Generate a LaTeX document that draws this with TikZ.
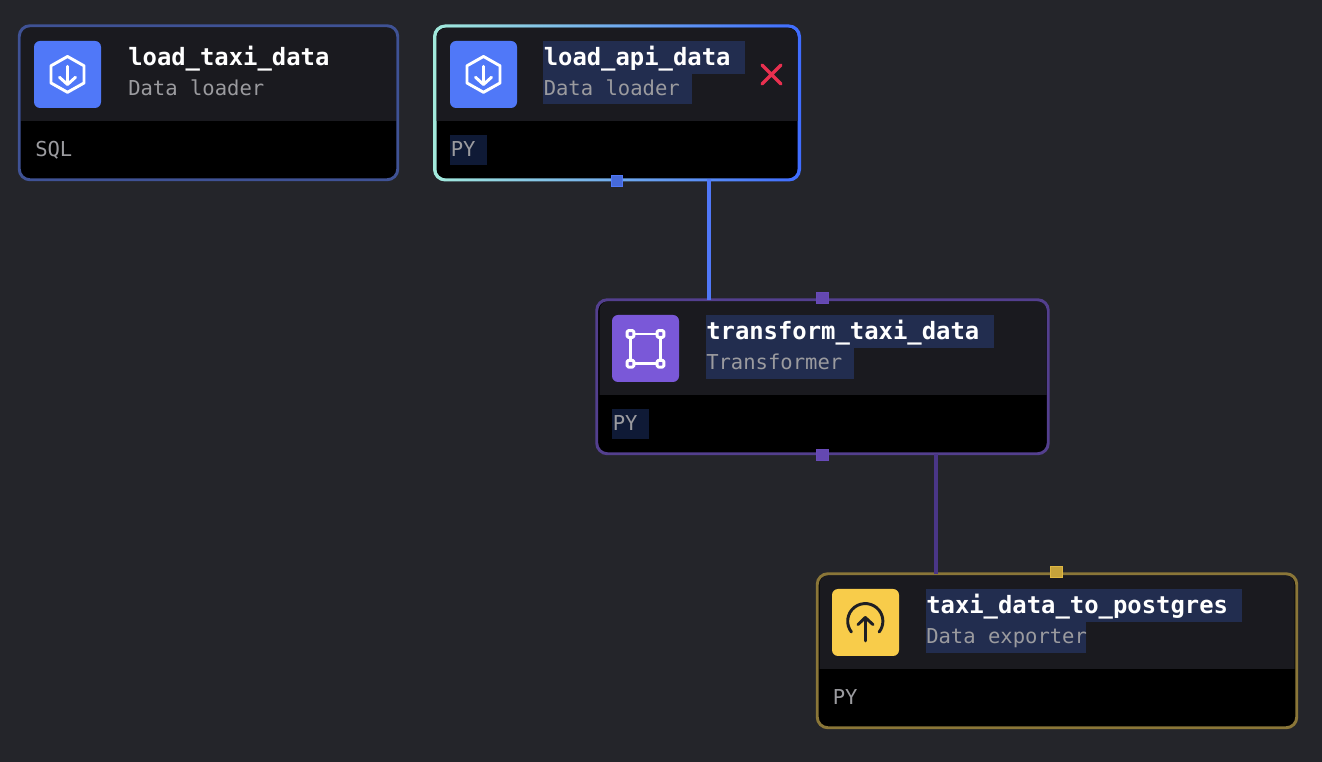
\documentclass[tikz,border=0pt]{standalone}
\usepackage{fontspec}
\setmonofont{DejaVu Sans Mono}
\definecolor{bgc}{HTML}{24252A}
\definecolor{headc}{HTML}{1A1A1F}
\definecolor{selhead}{HTML}{222D4F}
\definecolor{selbody}{HTML}{0F1A36}
\definecolor{subc}{HTML}{9B9B9F}
\definecolor{bluec}{HTML}{5078F8}
\definecolor{purplec}{HTML}{7A58D8}
\definecolor{yellowc}{HTML}{F8CC4A}
\definecolor{darkline}{HTML}{1E1F24}
\definecolor{blueedge}{HTML}{3F5295}
\definecolor{purpleedge}{HTML}{533F8E}
\definecolor{yellowedge}{HTML}{8A7638}
\definecolor{tealc}{HTML}{A2EADC}
\definecolor{vividblue}{HTML}{3F6CFF}
\definecolor{purplewire}{HTML}{4A3687}
\definecolor{crossc}{HTML}{E8304F}
\tikzset{
  cardbox/.style={rectangle,rounded corners=8pt,inner sep=0pt,fill=black},
  cardedge/.style={line width=2.2pt,rounded corners=8pt},
  titletext/.style={anchor=base west,inner sep=0pt,text=white,font=\ttfamily\bfseries\fontsize{17.9}{18}\selectfont},
  subtext/.style={anchor=base west,inner sep=0pt,text=subc,font=\ttfamily\fontsize{15.4}{15.4}\selectfont},
  langtext/.style={anchor=base west,inner sep=0pt,text=subc,font=\ttfamily\fontsize{15.4}{15.4}\selectfont},
  iconbox/.style={rectangle,rounded corners=4.5pt,inner sep=0pt,minimum size=50.25pt},
  whiteicon/.style={draw=white,line width=2.2pt,line join=round,line cap=round},
  darkicon/.style={draw=darkline,line width=2.2pt,line join=round,line cap=round},
  port/.style={rectangle,inner sep=0pt,minimum size=8.4pt,line width=0.75pt},
  wire/.style={line width=2.5pt},
  sel/.style={fill=selhead},
  selb/.style={fill=selbody}
}
\begin{document}
\begin{tikzpicture}[x=0.75pt,y=-0.75pt]
\useasboundingbox[fill=bgc] (0,0) rectangle (1322,762);
\coordinate (wirea) at (709,240);
\coordinate (wireb) at (936,515);
% cards
\node[cardbox,minimum width=283.5pt,minimum height=115.1pt] (taxi) at (208.5,102.75) {};
\fill[headc] (20.5,121) [rounded corners=7pt] -- (20.5,27) -- (396.5,27) [sharp corners] -- (396.5,121) -- cycle;
\draw[cardedge,draw=blueedge] (taxi.north west) rectangle (taxi.south east);
\shade[left color=tealc,right color=vividblue,rounded corners=9pt] (433,24.5) rectangle (801,181.5);
\node[cardbox,rounded corners=7pt,minimum width=270.75pt,minimum height=113pt] (api) at (617,103) {};
\fill[headc] (436.5,121) [rounded corners=7pt] -- (436.5,28) -- (797.5,28) [sharp corners] -- (797.5,121) -- cycle;
\node[cardbox,minimum width=338.25pt,minimum height=115.1pt] (transform) at (822.5,376.75) {};
\fill[headc] (599.5,395) [rounded corners=7pt] -- (599.5,301) -- (1046.5,301) [sharp corners] -- (1046.5,395) -- cycle;
\draw[cardedge,draw=purpleedge] (transform.north west) rectangle (transform.south east);
\node[cardbox,minimum width=359.25pt,minimum height=115.1pt] (exporter) at (1057,650.75) {};
\fill[headc] (819.5,669) [rounded corners=7pt] -- (819.5,575) -- (1294.5,575) [sharp corners] -- (1294.5,669) -- cycle;
\draw[cardedge,draw=yellowedge] (exporter.north west) rectangle (exporter.south east);
% wires
\draw[wire,draw=bluec] (api.south -| wirea) -- (transform.north -| wirea);
\draw[wire,draw=purplewire] (transform.south -| wireb) -- (exporter.north -| wireb);
% ports
\node[port,fill=bluec!88!black,draw=bluec] (p1) at (617,181) {};
\node[port,fill=purplec!82!black,draw=purplec!85!black] (p2) at (822.5,298) {};
\node[port,fill=purplec!82!black,draw=purplec!85!black] (p3) at (822.5,455) {};
\node[port,fill=yellowc!80!black,draw=yellowc!90!black] (p4) at (1056.5,572) {};
% selection highlights
\fill[sel] (543.3,41) rectangle (745,74.3);
\fill[sel] (543.3,74.3) rectangle (691.7,104.3);
\fill[selb] (450,135) rectangle (487,164.7);
\fill[sel] (706,315) rectangle (994,348.3);
\fill[sel] (706,348.3) rectangle (854,378.7);
\fill[selb] (612,409) rectangle (649,438.7);
\fill[sel] (925.7,589) rectangle (1242.3,622.3);
\fill[sel] (925.7,622.3) rectangle (1086,652.7);
% icon boxes
\node[iconbox,fill=bluec] (i1) at (67.5,74.5) {};
\node[iconbox,fill=bluec] (i2) at (483.5,74.5) {};
\node[iconbox,fill=purplec] (i3) at (645.5,348.5) {};
\node[iconbox,fill=yellowc] (i4) at (865.5,622.5) {};
% loader glyphs
\foreach \dx in {0,416}{
  \begin{scope}[xshift=\dx*0.75pt]
  \draw[whiteicon] (67.5,56.5) -- (84,65.8) -- (84,83) -- (67.5,92.3) -- (51,83) -- (51,65.8) -- cycle;
  \draw[whiteicon] (67.5,66.3) -- (67.5,84);
  \draw[whiteicon] (59.5,77.3) -- (67.5,84.5) -- (75.5,77.3);
  \end{scope}
}
% transformer glyph
\draw[whiteicon] (630.5,334) rectangle (660.5,363.7);
\foreach \cx/\cy in {630.5/334,660.5/334,630.5/363.7,660.5/363.7}{
  \draw[whiteicon,fill=purplec,rounded corners=1pt] (\cx-3.4,\cy-3.4) rectangle (\cx+3.4,\cy+3.4);
}
% exporter glyph
\draw[darkicon] (851.4,632) arc[start angle=218,end angle=-38,radius=13.2pt];
\draw[darkicon] (865.3,641) -- (865.3,617.7);
\draw[darkicon] (858,624.6) -- (865.3,617.5) -- (873,624.6);
% texts
\node[titletext] (t1) at (128,66) {load\_taxi\_data};
\node[subtext] (s1) at (128,96) {Data loader};
\node[langtext] (l1) at (35,157) {SQL};
\node[titletext] (t2) at (543.5,66) {load\_api\_data};
\node[subtext] (s2) at (543.5,96) {Data loader};
\node[langtext] (l2) at (450.5,157) {PY};
\node[titletext] (t3) at (706,340) {transform\_taxi\_data};
\node[subtext] (s3) at (706,370) {Transformer};
\node[langtext] (l3) at (612.5,431) {PY};
\node[titletext] (t4) at (926,614) {taxi\_data\_to\_postgres};
\node[subtext] (s4) at (926,644) {Data exporter};
\node[langtext] (l4) at (832.5,705) {PY};
% close cross
\draw[crossc,line width=2.6pt,line cap=round] (762,65) -- (781,84) (781,65) -- (762,84);
\end{tikzpicture}
\end{document}
